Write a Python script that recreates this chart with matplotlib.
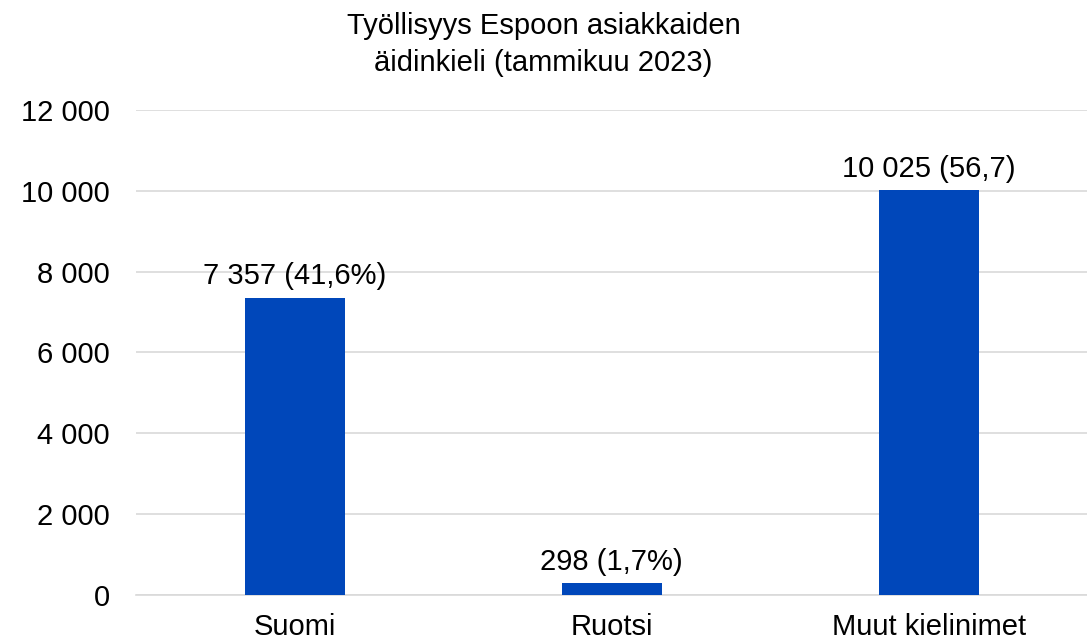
import matplotlib.pyplot as plt
import numpy as np

plt.rcParams['font.family'] = ['Liberation Sans', 'DejaVu Sans']

# data
categories = ['Suomi', 'Ruotsi', 'Muut kielinimet']
values = [7357, 298, 10025]
labels = ['7 357 (41,6%)', '298 (1,7%)', '10 025 (56,7)']
yticks = [0, 2000, 4000, 6000, 8000, 10000, 12000]
ytick_labels = ['0', '2 000', '4 000', '6 000', '8 000', '10 000', '12 000']

fs = 21
txt = '#000000'
fig = plt.figure(figsize=(10.87, 6.41), dpi=100)
ax = fig.add_axes([0.1255, 0.0718, 0.8745, 0.7566])

x = np.arange(len(categories))
ax.bar(x, values, width=0.316, color='#0047BA', zorder=3)

for xi, v, lab in zip(x, values, labels):
    ax.text(xi, v + 180, lab, ha='center', va='bottom', fontsize=fs, color=txt)

ax.set_xlim(-0.5, 2.5)
ax.set_ylim(0, 12000)
ax.set_yticks(yticks)
ax.set_yticklabels(ytick_labels, fontsize=fs, color=txt)
ax.set_xticks(x)
ax.set_xticklabels(categories, fontsize=fs, color=txt)
ax.tick_params(axis='both', length=0)
ax.tick_params(axis='y', pad=19)
ax.tick_params(axis='x', pad=13)
ax.grid(axis='y', color='#d9d9d9', linewidth=1.2, zorder=0)
for s in ['top', 'right', 'left']:
    ax.spines[s].set_visible(False)
ax.spines['bottom'].set_color('#d9d9d9')
ax.spines['bottom'].set_linewidth(1.2)

fig.text(0.5, 0.982, 'Työllisyys Espoon asiakkaiden\näidinkieli (tammikuu 2023)',
         ha='center', va='top', fontsize=fs, color=txt, linespacing=1.42)

fig.savefig('out.png', dpi=100)
